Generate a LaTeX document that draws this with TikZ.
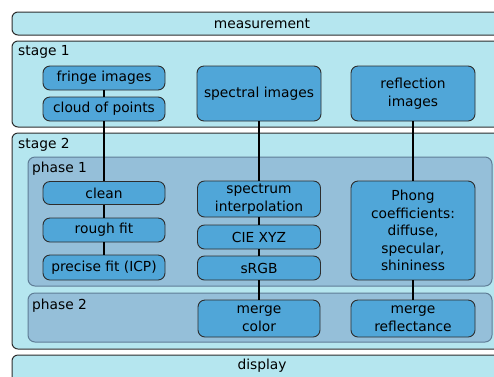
\documentclass[tikz,border=0pt]{standalone}
\usepackage{fontspec}
\setmainfont{DejaVu Sans}
\definecolor{cyanbg}{RGB}{181,230,239}
\definecolor{nodebg}{RGB}{80,166,216}
\definecolor{phasebg}{RGB}{149,191,217}
\definecolor{phaseline}{RGB}{95,125,150}
\definecolor{outline}{RGB}{45,45,45}
\begin{document}
\begin{tikzpicture}[x=1pt,y=-1pt,
  outerbox/.style={fill=cyanbg,draw=outline,line width=1pt,rounded corners=6pt},
  phasebox/.style={fill=phasebg,draw=phaseline,line width=1pt,rounded corners=7pt},
  stepbox/.style={fill=nodebg,draw=outline,line width=0.9pt,rounded corners=7pt,
    align=center,inner sep=0pt,font=\fontsize{13.8}{17.5}\selectfont},
  lbl/.style={anchor=west,inner sep=0pt,font=\fontsize{13.8}{17.5}\selectfont},
  conn/.style={line width=1.5pt,draw=black}]
\useasboundingbox (0,0) rectangle (494,376);
\clip (0,0) rectangle (494,376);
% outer boxes
\draw[outerbox] (12,12) rectangle (512,35);
\node[lbl,anchor=center] (meas) at (262,23.5) {measurement};
\draw[outerbox] (12,41) rectangle (512,127);
\node[lbl] (s1) at (18,52) {stage 1};
\draw[outerbox] (12,133) rectangle (512,349);
\node[lbl] (s2) at (18,145) {stage 2};
\draw[outerbox] (12,355) rectangle (512,400);
\node[lbl,anchor=center] (disp) at (262,366) {display};
% phases
\draw[phasebox] (28,157) rectangle (492,286);
\node[lbl] (p1) at (32,169) {phase 1};
\draw[phasebox] (28,293) rectangle (492,342);
\node[lbl] (p2) at (32,306) {phase 2};
% nodes column 1
\node[stepbox,minimum width=122pt,minimum height=24pt] (fringe) at (104,78) {fringe images};
\node[stepbox,minimum width=122pt,minimum height=24pt] (cloud) at (104,109) {cloud of points};
\node[stepbox,minimum width=122pt,minimum height=23pt] (clean) at (104,193) {clean};
\node[stepbox,minimum width=122pt,minimum height=24pt] (rough) at (104,230) {rough fit};
\node[stepbox,minimum width=122pt,minimum height=25pt] (precise) at (104,267.5) {precise fit (ICP)};
% column 2
\node[stepbox,minimum width=124pt,minimum height=55pt] (spectral) at (259,93.5) {spectral images};
\node[stepbox,minimum width=123pt,minimum height=36pt] (interp) at (259,199) {spectrum\\interpolation};
\node[stepbox,minimum width=123pt,minimum height=24pt] (cie) at (259,237) {CIE XYZ};
\node[stepbox,minimum width=123pt,minimum height=24pt] (srgb) at (259,268) {sRGB};
\node[stepbox,minimum width=122pt,minimum height=37pt] (mcolor) at (259,318.5) {merge\\color};
% column 3
\node[stepbox,minimum width=124pt,minimum height=55pt] (refl) at (413,93.5) {reflection\\images};
\node[stepbox,minimum width=124pt,minimum height=99pt] (phong) at (413,230.5) {Phong\\coefficients:\\diffuse,\\specular,\\shininess};
\node[stepbox,minimum width=124pt,minimum height=37pt] (mrefl) at (413,318.5) {merge\\reflectance};
% connectors
\draw[conn] (fringe) -- (cloud);
\draw[conn] (cloud) -- (clean);
\draw[conn] (clean) -- (rough);
\draw[conn] (rough) -- (precise);
\draw[conn] (spectral) -- (interp);
\draw[conn] (interp) -- (cie);
\draw[conn] (cie) -- (srgb);
\draw[conn] (srgb) -- (mcolor);
\draw[conn] (refl) -- (phong);
\draw[conn] (phong) -- (mrefl);
\end{tikzpicture}
\end{document}
